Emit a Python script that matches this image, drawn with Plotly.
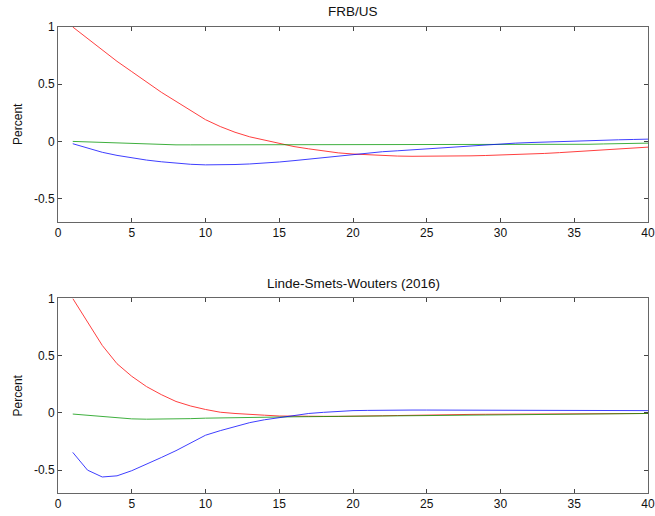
import plotly.graph_objects as go
from plotly.subplots import make_subplots

quarters = list(range(1, 41))

# FRB/US
frb_red = [1.0, 0.9, 0.8, 0.7, 0.61, 0.52, 0.43, 0.35, 0.27, 0.19,
           0.13, 0.08, 0.04, 0.01, -0.02, -0.045, -0.065, -0.085, -0.10, -0.11,
           -0.118, -0.124, -0.128, -0.13, -0.13, -0.13, -0.128, -0.126, -0.123, -0.12,
           -0.115, -0.11, -0.105, -0.098, -0.09, -0.083, -0.075, -0.067, -0.059, -0.05]
frb_green = [0.0, -0.005, -0.01, -0.015, -0.02, -0.025, -0.028, -0.03, -0.03, -0.03,
             -0.03, -0.03, -0.03, -0.03, -0.03, -0.03, -0.03, -0.03, -0.03, -0.03,
             -0.03, -0.03, -0.03, -0.03, -0.03, -0.03, -0.03, -0.03, -0.03, -0.03,
             -0.03, -0.03, -0.03, -0.03, -0.028, -0.025, -0.022, -0.02, -0.018, -0.015]
frb_blue = [-0.02, -0.06, -0.095, -0.122, -0.145, -0.163, -0.178, -0.19, -0.2, -0.205,
            -0.205, -0.202, -0.197, -0.19, -0.18, -0.168, -0.155, -0.142, -0.128, -0.112,
            -0.1, -0.09, -0.082, -0.073, -0.064, -0.056, -0.048, -0.04, -0.03, -0.02,
            -0.015, -0.01, -0.005, -0.002, 0.0, 0.005, 0.01, 0.014, 0.017, 0.02]

# Linde-Smets-Wouters (2016)
lsw_red = [1.0, 0.79, 0.59, 0.43, 0.32, 0.23, 0.16, 0.10, 0.06, 0.03,
           0.006, -0.005, -0.015, -0.02, -0.027, -0.03, -0.03, -0.03, -0.03, -0.03,
           -0.028, -0.025, -0.023, -0.02, -0.018, -0.016, -0.015, -0.013, -0.012, -0.011,
           -0.01, -0.01, -0.009, -0.009, -0.008, -0.007, -0.006, -0.006, -0.005, -0.005]
lsw_green = [-0.01, -0.02, -0.03, -0.045, -0.052, -0.055, -0.055, -0.053, -0.05, -0.046,
             -0.043, -0.04, -0.038, -0.036, -0.035, -0.034, -0.033, -0.032, -0.031, -0.03,
             -0.028, -0.027, -0.025, -0.024, -0.022, -0.021, -0.019, -0.018, -0.016, -0.015,
             -0.014, -0.013, -0.012, -0.011, -0.01, -0.009, -0.008, -0.007, -0.006, -0.005]
lsw_blue = [-0.345, -0.5, -0.56, -0.55, -0.505, -0.45, -0.39, -0.33, -0.26, -0.195,
            -0.155, -0.12, -0.085, -0.06, -0.04, -0.02, -0.005, 0.005, 0.015, 0.02,
            0.022, 0.025, 0.025, 0.025, 0.025, 0.025, 0.025, 0.025, 0.025, 0.025,
            0.025, 0.025, 0.025, 0.024, 0.022, 0.02, 0.02, 0.02, 0.02, 0.02]

titles = ["FRB/US", "Linde-Smets-Wouters (2016)"]
x_ticks = [0, 5, 10, 15, 20, 25, 30, 35, 40]
y_ticks = [-0.5, 0, 0.5, 1]
y_tick_labels = ["-0.5", "0", "0.5", "1"]

colors = ["red", "rgb(0,150,0)", "blue"]

fig = make_subplots(rows=2, cols=1, vertical_spacing=0.1652)

panels = [(frb_red, frb_green, frb_blue), (lsw_red, lsw_green, lsw_blue)]
for r, series in enumerate(panels, start=1):
    for s, c in zip(series, colors):
        fig.add_trace(go.Scatter(x=quarters, y=s, mode="lines",
                                 line=dict(color=c, width=1), showlegend=False,
                                 opacity=0.75),
                      row=r, col=1)
    fig.update_xaxes(range=[0, 40], tickvals=x_ticks, ticks="inside", ticklen=4,
                     mirror="ticks", showline=True, linecolor="#666", linewidth=1,
                     showgrid=False, zeroline=False, tickcolor="#444", automargin=False,
                     tickfont=dict(size=12, color="#111"), row=r, col=1)
    fig.update_yaxes(range=[-0.7, 1], tickvals=y_ticks, ticktext=y_tick_labels,
                     ticks="inside", ticklen=4, mirror="ticks", showline=True,
                     linecolor="#666", linewidth=1, showgrid=False, zeroline=False,
                     tickcolor="#444", tickfont=dict(size=12, color="#111"), automargin=False,
                     title=dict(text="Percent", font=dict(size=12, color="#111"), standoff=8),
                     row=r, col=1)

fig.add_annotation(text=titles[0], xref="x domain", yref="y domain", x=0.5, y=1.0,
                   yshift=6, showarrow=False, yanchor="bottom",
                   font=dict(size=13.5, color="#111"))
fig.add_annotation(text=titles[1], xref="x2 domain", yref="y2 domain", x=0.5, y=1.0,
                   yshift=5, showarrow=False, yanchor="bottom",
                   font=dict(size=13.5, color="#111"))

fig.update_layout(width=655, height=516, margin=dict(l=58, r=7, t=27, b=23),
                  plot_bgcolor="white", paper_bgcolor="white",
                  font=dict(family="Liberation Sans, Arial, sans-serif"))

fig.write_html("out.html", config={"displayModeBar": False},
               post_script="document.body.style.margin='0';document.body.style.overflow='hidden';")
